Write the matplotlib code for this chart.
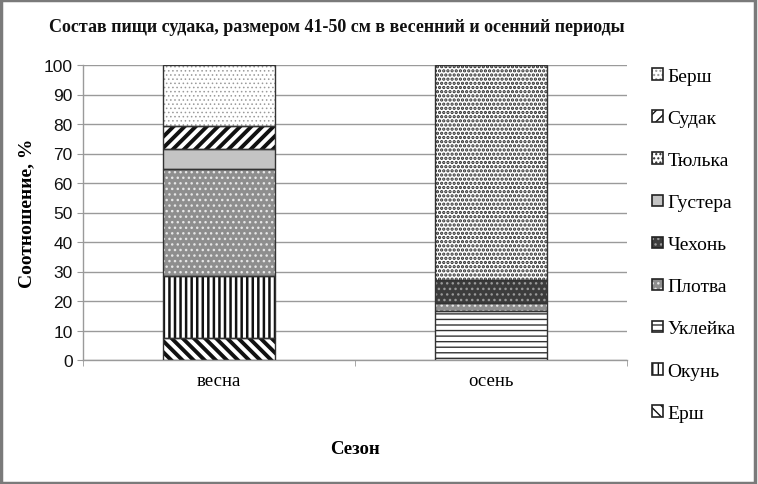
import matplotlib
matplotlib.use("Agg")
import matplotlib.pyplot as plt
import matplotlib.patches as mpatches
from matplotlib.legend_handler import HandlerTuple
import numpy as np

# ── Data ──────────────────────────────────────────────────────────────────────
seasons = ["весна", "осень"]
species = ["Ерш", "Окунь", "Уклейка", "Плотва", "Чехонь",
           "Густера", "Тюлька", "Судак", "Берш"]
vesna = [7.5, 21.1, 0.0, 36.1, 0.0, 6.8, 0.0, 7.9, 20.6]
osen  = [0.0, 0.0, 16.7, 2.5, 7.9, 0.0, 72.9, 0.0, 0.0]

# ── Styles: (facecolor, hatch, hatch colour, hatch linewidth) ─────────────────
STYLES = {
    "Ерш":     ("white",   "\\\\\\", "#111111", 2.8),
    "Окунь":   ("white",   "|||",    "#111111", 1.8),
    "Уклейка": ("white",   "---",    "#333333", 1.0),
    "Плотва":  ("#8e8e8e", "...",    "#e6e6e6", 1.0),
    "Чехонь":  ("#3c3c3c", "...",    "#9a9a9a", 1.0),
    "Густера": ("#c4c4c4", "",       "#c4c4c4", 1.0),
    "Тюлька":  ("white",   "....",   "#2a2a2a", 1.6),
    "Судак":   ("white",   "///",    "#111111", 2.8),
    "Берш":    ("white",   "....",   "#9a9a9a", 0.6),
}
OUTLINE = "#333333"
GRIDC = "#9a9a9a"
SERIF = "Liberation Serif"

fig = plt.figure(figsize=(7.58, 4.85), dpi=100, facecolor="white")
ax = fig.add_axes([83 / 758, 124 / 485, 544 / 758, 295 / 485])

x = np.arange(len(seasons))
width = 0.41
bottom = np.zeros(len(seasons))
handles = []
for i, name in enumerate(species):
    vals = np.array([vesna[i], osen[i]])
    fc, hatch, hc, hlw = STYLES[name]
    with plt.rc_context({"hatch.linewidth": hlw}):
        fill = ax.bar(x, vals, width, bottom=bottom, color=fc, hatch=hatch,
                      edgecolor=hc, linewidth=0, zorder=2)
    line = ax.bar(x, vals, width, bottom=bottom, fill=False,
                  edgecolor=OUTLINE, linewidth=1.0, zorder=3)
    for j, v in enumerate(vals):
        if v == 0:
            fill[j].set_visible(False)
            line[j].set_visible(False)
    with plt.rc_context({"hatch.linewidth": min(hlw, 1.5)}):
        h1 = mpatches.Rectangle((0, 0), 1, 1, facecolor=fc, hatch=hatch,
                                edgecolor=hc, linewidth=0)
    h2 = mpatches.Rectangle((0, 0), 1, 1, fill=False, edgecolor="#222222",
                            linewidth=1.2)
    handles.append((h1, h2))
    bottom += vals

ax.set_xlim(-0.5, 1.5)
ax.set_ylim(0, 100)
ax.set_yticks(range(0, 101, 10))
ax.yaxis.grid(True, color=GRIDC, linewidth=1.0, zorder=0)
ax.set_axisbelow(True)
for s in ["top", "right"]:
    ax.spines[s].set_visible(False)
for s in ["left", "bottom"]:
    ax.spines[s].set_color(GRIDC)
    ax.spines[s].set_linewidth(1.0)
ax.tick_params(axis="y", colors=GRIDC, length=4, labelcolor="#111111",
               labelsize=12.5)
for lbl in ax.get_yticklabels():
    lbl.set_family("Liberation Sans")

ax.set_xticks(x)
ax.set_xticklabels(seasons, family=SERIF, fontsize=13.5)
ax.set_xticks([-0.5, 0.5, 1.5], minor=True)
ax.tick_params(axis="x", which="major", length=0, pad=9)
ax.tick_params(axis="x", which="minor", length=4, colors=GRIDC)

ax.set_ylabel("Соотношение, %", family=SERIF, fontweight="bold",
              fontsize=14, labelpad=6)
ax.set_xlabel("Сезон", family=SERIF, fontweight="bold", fontsize=13.5,
              labelpad=36)
fig.text(337 / 758, 1 - 27 / 485,
         "Состав пищи судака, размером 41-50 см в весенний и осенний периоды",
         family=SERIF, fontweight="bold", fontsize=13, ha="center",
         va="center", color="#111111")

leg = fig.legend(handles[::-1], species[::-1], loc="upper left",
                 bbox_to_anchor=(652 / 758, 1 - 69 / 485), frameon=False,
                 handler_map={tuple: HandlerTuple(ndivide=1)},
                 prop={"family": SERIF, "size": 14},
                 handlelength=0.55, handleheight=0.55, handletextpad=0.25,
                 labelspacing=1.29, borderaxespad=0, borderpad=0)

# image frame
fig.patches.append(mpatches.Rectangle((0.001, 0.003), 0.995, 0.994,
                                      transform=fig.transFigure, fill=False,
                                      edgecolor="#7a7a7a", linewidth=2.5))

fig.savefig("out.png", dpi=100, facecolor="white")
